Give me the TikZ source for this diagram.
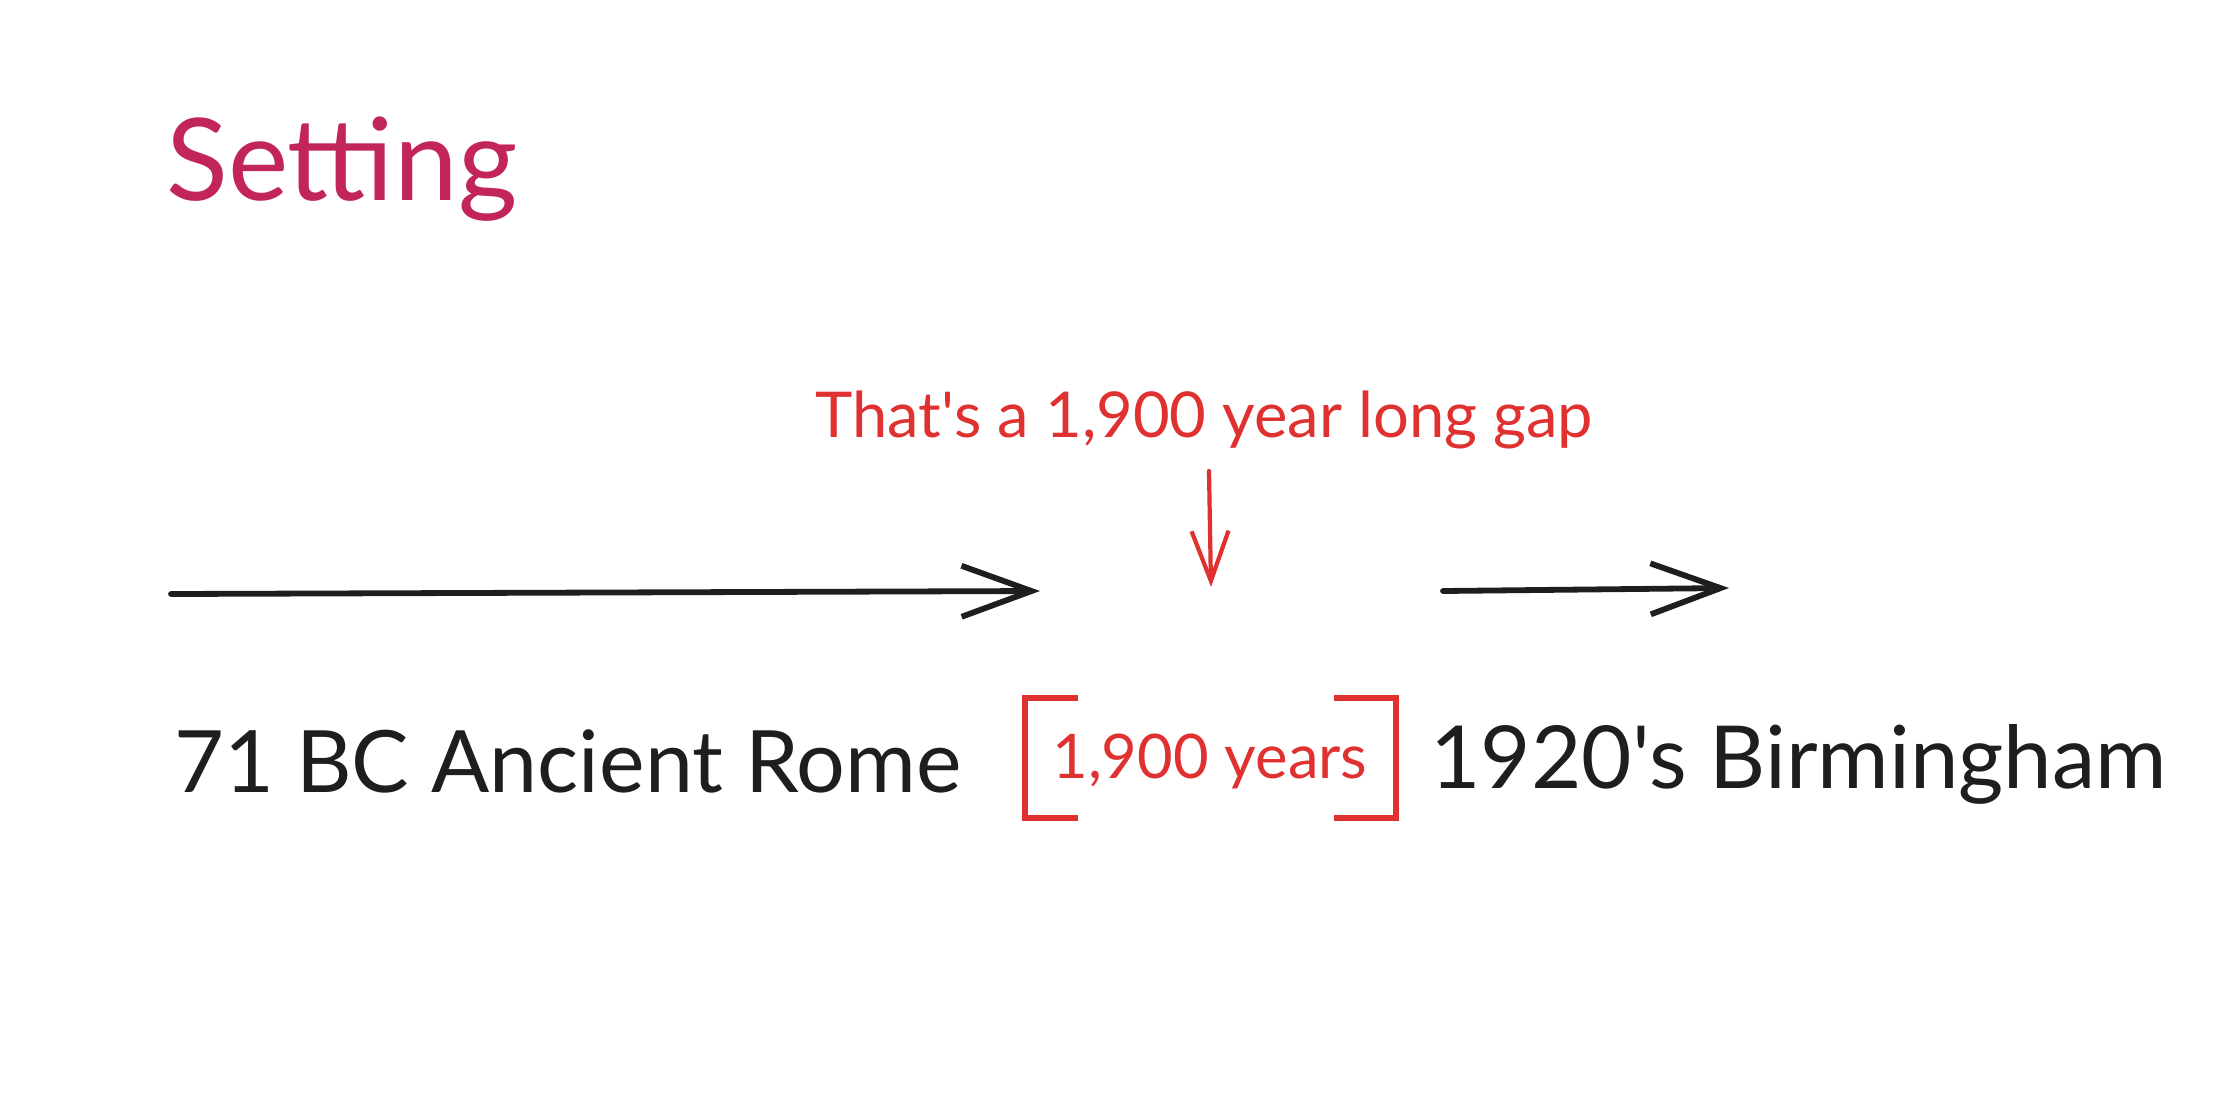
\documentclass[tikz,border=0pt]{standalone}
\usepackage{fontspec}
\setmainfont{Lato}
\usepackage{tikz}
\usepackage{xcolor}
\usetikzlibrary{arrows.meta}

\definecolor{gapred}{HTML}{E03131}
\definecolor{titlepink}{HTML}{C2255C}
\definecolor{ink}{HTML}{1E1E1E}

\begin{document}
\begin{tikzpicture}[x=0.02cm, y=-0.02cm, line cap=round, line join=round,
    timeline/.style={draw=ink, line width=3.3pt,
        -{Straight Barb[length=1.4cm, width=1.02cm, line width=3.3pt]}},
    gaparrow/.style={draw=gapred, line width=2.4pt,
        -{Straight Barb[length=1.0cm, width=0.74cm, line width=2.4pt]}},
    bracket/.style={draw=gapred, line width=3.1pt, line cap=rect, line join=miter},
    label/.style={inner sep=0pt, anchor=base west}]

    \useasboundingbox (0,0) rectangle (2238,1093);

	% heading
	\node[label, text=titlepink, font=\fontsize{65}{70}\selectfont] (title) at (166,200) {Setting};

	% note above the gap
	\node[label, text=gapred, font=\fontsize{36}{42}\selectfont] (note) at (815,437) {That\textquotesingle s a 1,900 year long gap};

	% timeline arrows
	\coordinate (romestart) at (171,594);
	\coordinate (romeend) at (1040,591);
	\coordinate (brumstart) at (1443,591);
	\coordinate (brumend) at (1729,588);
	\draw[timeline] (romestart) -- (romeend);
	\draw[timeline] (brumstart) -- (brumend);

	% pointer into the gap
	\coordinate (gaptip) at (1211,587);
	\draw[gaparrow] (1209,471) -- (gaptip);

	% the two dates
	\node[label, text=ink, font=\fontsize{49}{54}\selectfont] (rome) at (174,792) {71 BC Ancient Rome};
	\node[label, text=ink, font=\fontsize{49.5}{54}\selectfont] (brum) at (1430,788) {1920\textquotesingle s Birmingham};

	% gap in years, between brackets
	\node[label, text=gapred, font=\fontsize{35}{40}\selectfont] (years) at (1052,778) {1,900 years};
	\draw[bracket] (1075,698) -- (1025,698) -- (1025,818) -- (1075,818);
	\draw[bracket] (1337,698) -- (1396,698) -- (1396,818) -- (1337,818);

\end{tikzpicture}
\end{document}
